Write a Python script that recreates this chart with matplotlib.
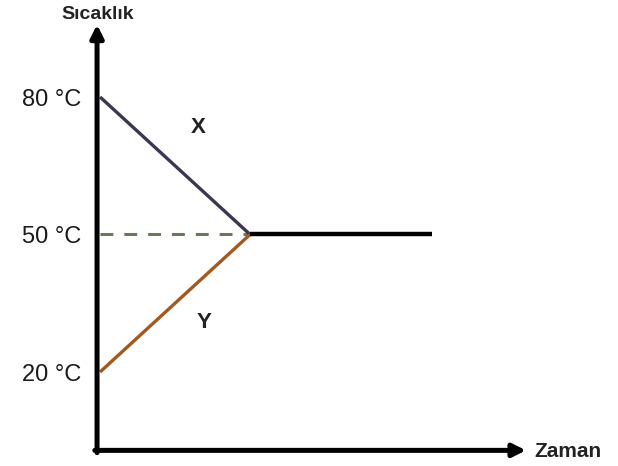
import matplotlib
matplotlib.use("Agg")
import matplotlib.pyplot as plt

# Data
time_x = [0.0, 1.0]          # X cools from 80 to 50
temp_x = [80, 50]
time_y = [0.0, 1.0]          # Y warms from 20 to 50
temp_y = [20, 50]
time_eq = [1.0, 2.21]        # equilibrium
temp_eq = [50, 50]
time_ref = [0.0, 1.0]        # dashed reference
temp_ref = [50, 50]
tick_temps = [80, 50, 20]
tick_labels = ["80 °C", "50 °C", "20 °C"]

plt.rcParams['font.family'] = ['Liberation Sans', 'DejaVu Sans']

fig = plt.figure(figsize=(6.18, 4.66), dpi=100)
ax = fig.add_axes([0, 0, 1, 1])
ax.set_xlim(-0.667, 3.453)
ax.set_ylim(-0.51, 101.16)
ax.axis("off")

# axes with arrows
ax.annotate("", xy=(-0.02, 95.8), xytext=(-0.02, 2.4),
            arrowprops=dict(arrowstyle="-|>", lw=3.6, color="black",
                            mutation_scale=19, shrinkA=0, shrinkB=0))
ax.annotate("", xy=(2.84, 2.9), xytext=(-0.035, 2.9),
            arrowprops=dict(arrowstyle="-|>", lw=3.6, color="black",
                            mutation_scale=19, shrinkA=0, shrinkB=0))

ax.plot(time_ref, temp_ref, color="#687a5c", lw=2.2, dashes=(4.2, 3.6))
ax.plot(time_x, temp_x, color="#3b3652", lw=2.4, solid_capstyle="butt")
ax.plot(time_y, temp_y, color="#a4581c", lw=2.4, solid_capstyle="butt")
ax.plot(time_eq, temp_eq, color="black", lw=3.2, solid_capstyle="butt")

for t, lab in zip(tick_temps, tick_labels):
    ax.text(-0.125, t - 0.6, lab, ha="right", va="center", fontsize=17,
            color="#1a1a1a")

ax.text(-0.015, 98.0, "Sıcaklık", ha="center", va="center", fontsize=14,
        fontweight="bold", color="#222222")
ax.text(2.895, 2.6, "Zaman", ha="left", va="center", fontsize=15,
        fontweight="bold", color="#222222")
ax.text(0.653, 73.4, "X", ha="center", va="center", fontsize=16,
        fontweight="bold", color="#222222")
ax.text(0.693, 30.7, "Y", ha="center", va="center", fontsize=16,
        fontweight="bold", color="#222222")

fig.savefig("out.png", dpi=100)
